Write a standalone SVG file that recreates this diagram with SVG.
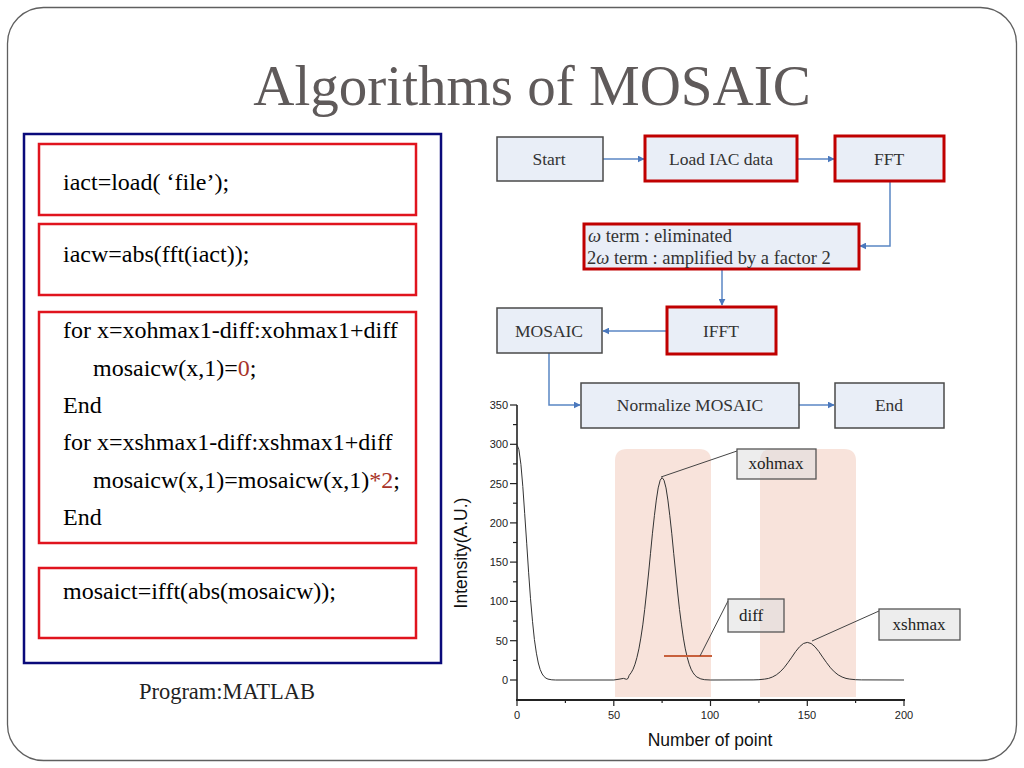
<svg xmlns="http://www.w3.org/2000/svg" width="1024" height="768" viewBox="0 0 1024 768">
<defs>
<style>
.code{font-family:"Liberation Serif","Times New Roman",serif;font-size:24px;fill:#000}
.red{fill:#a83228}
.cbox{fill:#fff;stroke:#e0141e;stroke-width:2.5}
.fbox{fill:#e9eef7;stroke:#4a4a4a;stroke-width:1.5}
.fred{fill:#e9eef7;stroke:#c00000;stroke-width:3}
.ft{font-family:"Liberation Serif","Times New Roman",serif;font-size:17.5px;fill:#333;text-anchor:middle}
.ot{font-family:"Liberation Serif","Times New Roman",serif;font-size:18.5px;fill:#333}
.conn{fill:none;stroke:#5a86c4;stroke-width:1.5}
.tick{stroke:#222;stroke-width:1.2}
.tl{font-family:"Liberation Sans",Arial,sans-serif;font-size:11px;fill:#222}
.ann{fill:#dedede;fill-opacity:0.55;stroke:#555;stroke-width:1.3}
.at{font-family:"Liberation Serif","Times New Roman",serif;font-size:17px;fill:#222}
.shade{fill:#f8e3db}
</style>
<marker id="arr" viewBox="0 0 10 10" refX="9" refY="5" markerWidth="7" markerHeight="7" orient="auto" markerUnits="userSpaceOnUse">
<path d="M0,0 L10,5 L0,10 z" fill="#4a78bd"/>
</marker>
</defs>
<rect x="0" y="0" width="1024" height="768" fill="#fff"/>
<rect x="7.5" y="7.5" width="1009" height="753" rx="36" ry="36" fill="none" stroke="#5f5f5f" stroke-width="1.3"/>
<text x="532" y="105" text-anchor="middle" font-family="Liberation Serif,Times New Roman,serif" font-size="57" fill="#5f5a5a">Algorithms of MOSAIC</text>

<g id="code-panel">
<rect x="24" y="134" width="417" height="529" fill="none" stroke="#0a0a7a" stroke-width="2.5"/>
<g id="code1"><rect class="cbox" x="39" y="144" width="377" height="71"/><text class="code" x="63" y="190">iact=load(  ‘file’);</text></g>
<g id="code2"><rect class="cbox" x="39" y="224" width="377" height="71"/><text class="code" x="63" y="262">iacw=abs(fft(iact));</text></g>
<g id="code3"><rect class="cbox" x="39" y="312" width="377" height="231"/>
<text class="code" x="63" y="338">for x=xohmax1-diff:xohmax1+diff</text>
<text class="code" x="93" y="376">mosaicw(x,1)=<tspan class="red">0</tspan>;</text>
<text class="code" x="63" y="413">End</text>
<text class="code" x="63" y="450">for x=xshmax1-diff:xshmax1+diff</text>
<text class="code" x="93" y="488">mosaicw(x,1)=mosaicw(x,1)<tspan class="red">*2</tspan>;</text>
<text class="code" x="63" y="525">End</text>
</g>
<g id="code4"><rect class="cbox" x="39" y="568" width="377" height="70"/><text class="code" x="63" y="599">mosaict=ifft(abs(mosaicw));</text></g>
</g>
<text x="227" y="699" text-anchor="middle" font-family="Liberation Serif,Times New Roman,serif" font-size="22.5" fill="#222">Program:MATLAB</text>

<g id="connectors">
<path class="conn" d="M603,159 H644" marker-end="url(#arr)"/>
<path class="conn" d="M797,159 H834" marker-end="url(#arr)"/>
<path class="conn" d="M890,181 V246 H860" marker-end="url(#arr)"/>
<path class="conn" d="M722,269 V305" marker-end="url(#arr)"/>
<path class="conn" d="M667,331 H603" marker-end="url(#arr)"/>
<path class="conn" d="M549,353 V405 H580" marker-end="url(#arr)"/>
<path class="conn" d="M799,405 H834" marker-end="url(#arr)"/>
</g>

<g id="n-start"><rect class="fbox" x="497" y="137" width="106" height="44"/><text class="ft" x="549" y="165">Start</text></g>
<g id="n-load"><rect class="fred" x="645" y="136" width="152" height="45"/><text class="ft" x="721" y="165">Load IAC data</text></g>
<g id="n-fft"><rect class="fred" x="835" y="136" width="109" height="45"/><text class="ft" x="889" y="165">FFT</text></g>
<g id="n-omega"><rect class="fred" x="584" y="224" width="275" height="45"/>
<text class="ot" x="588" y="242"><tspan font-style="italic">ω</tspan> term : eliminated</text>
<text class="ot" x="587" y="264">2<tspan font-style="italic">ω</tspan> term : amplified by a factor 2</text></g>
<g id="n-mosaic"><rect class="fbox" x="497" y="308" width="105" height="45"/><text class="ft" x="549" y="337">MOSAIC</text></g>
<g id="n-ifft"><rect class="fred" x="667" y="307" width="109" height="47"/><text class="ft" x="721" y="337">IFFT</text></g>
<g id="n-norm"><rect class="fbox" x="581" y="383" width="218" height="45"/><text class="ft" x="690" y="411">Normalize MOSAIC</text></g>
<g id="n-end"><rect class="fbox" x="835" y="383" width="109" height="45"/><text class="ft" x="889" y="411">End</text></g>

<g id="chart">
<path class="shade" d="M615,697 V461 Q615,449 627,449 H699 Q711,449 711,461 V697 Z"/>
<path class="shade" d="M760,697 V461 Q760,449 772,449 H844 Q856,449 856,461 V697 Z"/>
<line x1="517" y1="405" x2="517" y2="701" stroke="#222" stroke-width="1.6"/>
<line x1="516" y1="700" x2="905" y2="700" stroke="#222" stroke-width="2"/>
<g class="tick">
<line x1="510" y1="405" x2="517" y2="405"/><line x1="513" y1="424.6" x2="517" y2="424.6"/>
<line x1="510" y1="444.3" x2="517" y2="444.3"/><line x1="513" y1="463.9" x2="517" y2="463.9"/>
<line x1="510" y1="483.6" x2="517" y2="483.6"/><line x1="513" y1="503.2" x2="517" y2="503.2"/>
<line x1="510" y1="522.9" x2="517" y2="522.9"/><line x1="513" y1="542.5" x2="517" y2="542.5"/>
<line x1="510" y1="562.1" x2="517" y2="562.1"/><line x1="513" y1="581.8" x2="517" y2="581.8"/>
<line x1="510" y1="601.4" x2="517" y2="601.4"/><line x1="513" y1="621.1" x2="517" y2="621.1"/>
<line x1="510" y1="640.7" x2="517" y2="640.7"/><line x1="513" y1="660.4" x2="517" y2="660.4"/>
<line x1="510" y1="680" x2="517" y2="680"/>
<line x1="517" y1="700" x2="517" y2="706"/><line x1="565.4" y1="700" x2="565.4" y2="703"/>
<line x1="613.8" y1="700" x2="613.8" y2="706"/><line x1="662.1" y1="700" x2="662.1" y2="703"/>
<line x1="710.5" y1="700" x2="710.5" y2="706"/><line x1="758.9" y1="700" x2="758.9" y2="703"/>
<line x1="807.3" y1="700" x2="807.3" y2="706"/><line x1="855.6" y1="700" x2="855.6" y2="703"/>
<line x1="904" y1="700" x2="904" y2="706"/>
</g>
<g class="tl" text-anchor="end">
<text x="508" y="409">350</text><text x="508" y="448">300</text><text x="508" y="488">250</text>
<text x="508" y="527">200</text><text x="508" y="566">150</text><text x="508" y="605">100</text>
<text x="508" y="645">50</text><text x="508" y="684">0</text>
</g>
<g class="tl" text-anchor="middle">
<text x="517" y="719">0</text><text x="614" y="719">50</text><text x="710" y="719">100</text>
<text x="807" y="719">150</text><text x="904" y="719">200</text>
</g>
<text x="0" y="0" transform="translate(467,553) rotate(-90)" text-anchor="middle" font-family="Liberation Sans,Arial,sans-serif" font-size="17.5" fill="#111">Intensity(A.U.)</text>
<text x="710" y="746" text-anchor="middle" font-family="Liberation Sans,Arial,sans-serif" font-size="17.5" fill="#111">Number of point</text>
<polyline fill="none" stroke="#333" stroke-width="1" stroke-linejoin="round" points="517,444.7 518.9,449.7 520.9,464.3 522.8,486.4 524.7,513.7 526.7,543.2 528.6,572.2 530.5,598.7 532.5,621.3 534.4,639.5 536.4,653.2 538.3,663 540.2,669.6 542.2,674 544.1,676.6 546,678.2 548,679.1 551.8,679.8 555.7,680 613.8,680 619,679.2 623.5,678.4 626.5,679.3 628,678.5 629.2,675.3 631.1,672.8 633.1,669.2 635,664.2 636.9,657.6 638.9,648.9 640.8,638.1 642.8,624.9 644.7,609.4 646.6,592 648.6,573 650.5,553.3 652.4,533.8 654.4,515.7 656.3,500.1 658.2,487.9 660.2,480.2 662.1,477.6 664,480.2 666,487.9 667.9,500.1 669.8,515.7 671.8,533.8 673.7,553.3 675.7,573 677.6,592 679.5,609.4 681.5,624.9 683.4,638.1 685.3,648.9 687.3,657.6 689.2,664.2 691.1,669.2 693.1,672.8 695,675.3 696.9,677 700.8,678.9 704.7,679.7 710.5,680 753.1,679.9 758.9,679.7 764.7,679.1 768.6,678.4 772.4,677 776.3,674.9 780.2,671.8 784,667.8 787.9,662.7 791.8,657.2 795.6,651.6 799.5,646.8 803.4,643.5 807.3,642.4 811.1,643.5 815,646.8 818.9,651.6 822.7,657.2 826.6,662.7 830.5,667.8 834.3,671.8 838.2,674.9 842.1,677 846,678.4 849.8,679.1 855.6,679.7 861.4,679.9 904,680"/>
<line x1="664" y1="656" x2="712" y2="656" stroke="#c8603c" stroke-width="1.8"/>
</g>

<g id="a-xohmax"><line x1="661" y1="477" x2="737" y2="451" stroke="#444" stroke-width="1"/><rect class="ann" x="737" y="449" width="79" height="30"/><text class="at" x="776" y="469" text-anchor="middle">xohmax</text></g>
<g id="a-diff"><line x1="700" y1="656" x2="728" y2="601" stroke="#444" stroke-width="1"/><rect class="ann" x="728" y="599" width="56" height="33"/><text class="at" x="739" y="621">diff</text></g>
<g id="a-xshmax"><line x1="812" y1="641" x2="879" y2="611" stroke="#444" stroke-width="1"/><rect class="ann" x="879" y="609" width="81" height="31"/><text class="at" x="919" y="630" text-anchor="middle">xshmax</text></g>
</svg>
